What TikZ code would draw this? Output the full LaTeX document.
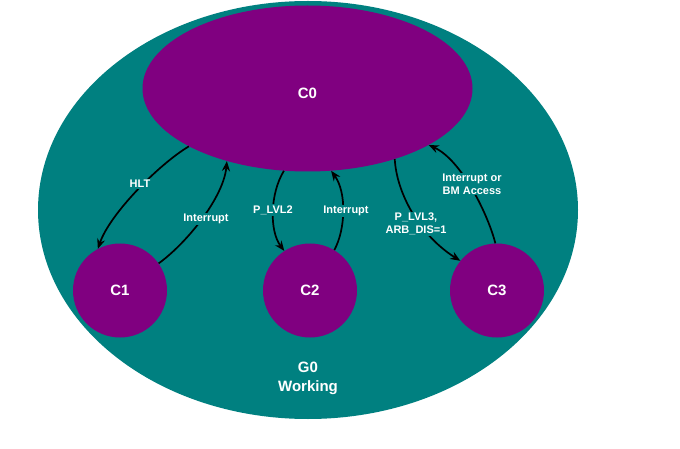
\documentclass[tikz,border=0pt]{standalone}
\usepackage{fontspec}
\setmainfont{Liberation Sans}
\usetikzlibrary{shapes.geometric,arrows.meta}
\definecolor{tealc}{RGB}{0,128,128}
\definecolor{purp}{RGB}{128,0,128}
\begin{document}
\begin{tikzpicture}[x=1pt,y=-1pt,
  big/.style={font=\bfseries\fontsize{15}{19}\selectfont, text=white, align=center},
  lbl/.style={font=\bfseries\fontsize{11}{13}\selectfont, text=white, align=center, fill=tealc, inner sep=1pt},
  cstate/.style={circle, fill=purp, minimum size=94pt, inner sep=0pt, big},
  arr/.style={line width=1.7pt, -{Stealth[length=10pt,width=8pt]}}]
\path[use as bounding box, fill=white] (0,0) rectangle (680,449);
\node[ellipse, fill=tealc, minimum width=540pt, minimum height=418pt, inner sep=0pt] (g0) at (308,210) {};
\node[big] (g0lbl) at (308,378) {G0\\Working};
\node[ellipse, fill=purp, minimum width=330pt, minimum height=166pt, inner sep=0pt, big] (c0) at (307.5,88.5) {\raisebox{-5pt}[\height][0pt]{C0}};
\node[cstate] (c1) at (120,290.5) {C1};
\node[cstate] (c2) at (310,290.5) {C2};
\node[cstate] (c3) at (497,290.5) {C3};
\draw[arr] (c0.206) .. controls +(-30,18) and +(12,-35) .. (c1.118);
\draw[arr] (c1.35) .. controls +(30,-22) and +(-3,35) .. (c0.222);
\draw[arr] (c0.254) .. controls +(-14,23) and +(-15,-20) .. (c2.123);
\draw[arr] (c2.59) .. controls +(11,-20) and +(16,22) .. (c0.286);
\draw[arr] (c0.321) .. controls +(2,35) and +(-40,-25) .. (c3.141);
\draw[arr] (c3.92) .. controls +(-7,-28) and +(33,15) .. (c0.335);
\node[lbl] (lhlt) at (140,184) {HLT};
\node[lbl] (li1) at (206,219) {Interrupt};
\node[lbl] (lp2) at (273,210) {P\_LVL2};
\node[lbl] (li2) at (346,211) {Interrupt};
\node[lbl] (lp3) at (416,224) {P\_LVL3,\\ARB\_DIS=1};
\node[lbl] (li3) at (472,184) {Interrupt or\\BM Access};
\end{tikzpicture}
\end{document}
